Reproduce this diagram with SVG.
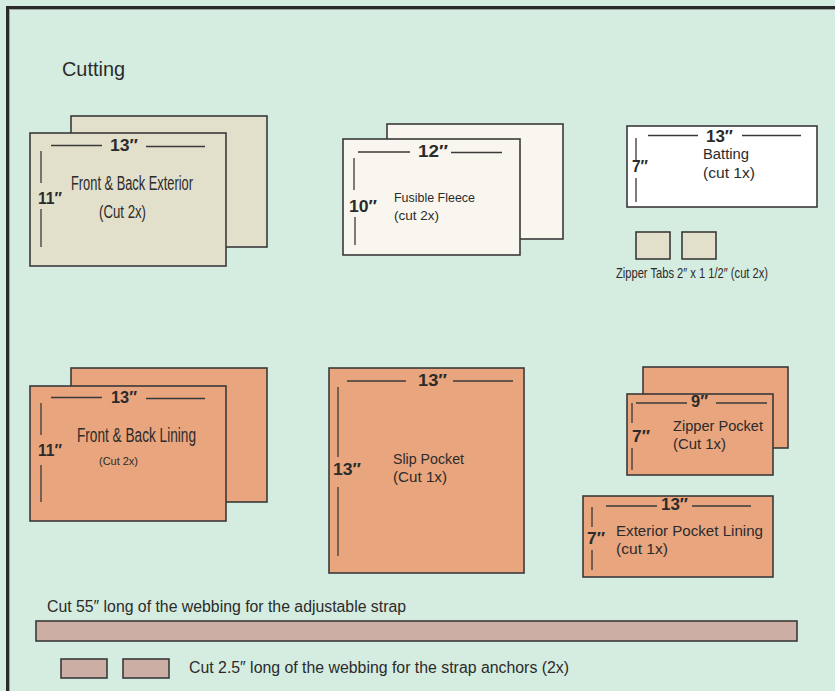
<svg xmlns="http://www.w3.org/2000/svg" width="835" height="691" viewBox="0 0 835 691">
<style>
  .frame{stroke:#2a2a2a;stroke-width:3;fill:none}
  .pc{stroke:#3a3a3a;stroke-width:1.6}
  .beige{fill:#e2dfcb}
  .cream{fill:#f8f6ee}
  .white{fill:#ffffff}
  .salmon{fill:#e9a57e}
  .strap{fill:#cdaea4}
  .dim{stroke:#3a3a3a;stroke-width:1.3;fill:none}
  text{font-family:"Liberation Sans",Arial,sans-serif;fill:#2b2b2b}
  .d{font-weight:bold;font-size:16px}
  .lab{font-size:20px}
  .sm{font-size:14px}
</style>
<rect x="0" y="0" width="835" height="691" fill="#d5ece0"/>
<path class="frame" d="M7.5 691 V7.5 H835"/>
<path d="M9.5 691 V9.5 H835" stroke="#9aa8a0" stroke-width="1" fill="none"/>
<text id="title" x="62" y="76" font-size="20" textLength="63" lengthAdjust="spacingAndGlyphs">Cutting</text>

<g id="front-back-exterior">
  <rect class="pc beige" x="71" y="116" width="196" height="131"/>
  <rect class="pc beige" x="30" y="133" width="196" height="133"/>
  <path class="dim" d="M51 145.5 H102 M146 146.5 H205 M41 151 V183 M41 209 V247"/>
  <text class="d" x="110" y="151" textLength="28" lengthAdjust="spacingAndGlyphs">13″</text>
  <text class="d" x="38" y="204" textLength="24" lengthAdjust="spacingAndGlyphs">11″</text>
  <text class="lab" x="71" y="190" textLength="122" lengthAdjust="spacingAndGlyphs">Front &amp; Back Exterior</text>
  <text x="99" y="218" font-size="18" textLength="47" lengthAdjust="spacingAndGlyphs">(Cut 2x)</text>
</g>

<g id="fusible-fleece">
  <rect class="pc cream" x="387" y="124" width="176" height="115"/>
  <rect class="pc cream" x="343" y="139" width="177" height="116"/>
  <path class="dim" d="M358 152 H410 M451 152.5 H502 M354 158 V190 M355 217 V245"/>
  <text class="d" x="418" y="157" textLength="30" lengthAdjust="spacingAndGlyphs">12″</text>
  <text class="d" x="349" y="212" textLength="28" lengthAdjust="spacingAndGlyphs">10″</text>
  <text x="394" y="202" font-size="13.5" textLength="81" lengthAdjust="spacingAndGlyphs">Fusible Fleece</text>
  <text x="394" y="220" font-size="13.5" textLength="45" lengthAdjust="spacingAndGlyphs">(cut 2x)</text>
</g>

<g id="batting">
  <rect class="pc white" x="627" y="126" width="190" height="81"/>
  <path class="dim" d="M648 135.5 H698 M742 135.5 H801 M636 138 V160 M636 178 V202"/>
  <text class="d" x="706" y="142" textLength="27" lengthAdjust="spacingAndGlyphs">13″</text>
  <text class="d" x="632" y="172" textLength="16" lengthAdjust="spacingAndGlyphs">7″</text>
  <text class="sm" x="703" y="159" textLength="46" lengthAdjust="spacingAndGlyphs">Batting</text>
  <text class="sm" x="703" y="178" textLength="52" lengthAdjust="spacingAndGlyphs">(cut 1x)</text>
</g>

<g id="zipper-tabs">
  <rect class="pc beige" x="636" y="232" width="34" height="27"/>
  <rect class="pc beige" x="682" y="232" width="34" height="27"/>
  <text x="616" y="278" font-size="15" textLength="152" lengthAdjust="spacingAndGlyphs">Zipper Tabs 2″ x 1 1/2″ (cut 2x)</text>
</g>

<g id="front-back-lining">
  <rect class="pc salmon" x="71" y="368" width="196" height="134"/>
  <rect class="pc salmon" x="30" y="386" width="196" height="135"/>
  <path class="dim" d="M51 397.5 H102 M146 398.5 H205 M41 403 V435 M41 465 V502"/>
  <text class="d" x="111" y="403" textLength="26" lengthAdjust="spacingAndGlyphs">13″</text>
  <text class="d" x="38" y="456" textLength="24" lengthAdjust="spacingAndGlyphs">11″</text>
  <text class="lab" x="77" y="442" font-size="21" textLength="119" lengthAdjust="spacingAndGlyphs">Front &amp; Back Lining</text>
  <text x="99" y="465" font-size="11" textLength="39" lengthAdjust="spacingAndGlyphs">(Cut 2x)</text>
</g>

<g id="slip-pocket">
  <rect class="pc salmon" x="329" y="368" width="195" height="205"/>
  <path class="dim" d="M347 381 H406 M453 381 H513 M338 387 V457 M338 487 V556"/>
  <text class="d" x="418" y="386" textLength="29" lengthAdjust="spacingAndGlyphs">13″</text>
  <text class="d" x="333" y="475" textLength="28" lengthAdjust="spacingAndGlyphs">13″</text>
  <text class="sm" x="393" y="464" textLength="71" lengthAdjust="spacingAndGlyphs">Slip Pocket</text>
  <text class="sm" x="393" y="482" textLength="54" lengthAdjust="spacingAndGlyphs">(Cut 1x)</text>
</g>

<g id="zipper-pocket">
  <rect class="pc salmon" x="643" y="367" width="145" height="81"/>
  <rect class="pc salmon" x="627" y="394" width="146" height="81"/>
  <path class="dim" d="M636 403 H687 M716 403 H767 M632 403 V423 M632 448 V470"/>
  <text class="d" x="691" y="407" textLength="17" lengthAdjust="spacingAndGlyphs">9″</text>
  <text class="d" x="632" y="442" textLength="18" lengthAdjust="spacingAndGlyphs">7″</text>
  <text class="sm" x="673" y="431" textLength="90" lengthAdjust="spacingAndGlyphs">Zipper Pocket</text>
  <text class="sm" x="673" y="449" textLength="53" lengthAdjust="spacingAndGlyphs">(Cut 1x)</text>
</g>

<g id="exterior-pocket-lining">
  <rect class="pc salmon" x="583" y="496" width="190" height="81"/>
  <path class="dim" d="M606 506 H657 M692 506 H751 M592 507 V527 M592 550 V570"/>
  <text class="d" x="661" y="510" textLength="27" lengthAdjust="spacingAndGlyphs">13″</text>
  <text class="d" x="587" y="544" textLength="18" lengthAdjust="spacingAndGlyphs">7″</text>
  <text class="sm" x="616" y="536" textLength="147" lengthAdjust="spacingAndGlyphs">Exterior Pocket Lining</text>
  <text class="sm" x="616" y="554" textLength="52" lengthAdjust="spacingAndGlyphs">(cut 1x)</text>
</g>

<g id="adjustable-strap">
  <text x="47" y="612" font-size="16" textLength="359" lengthAdjust="spacingAndGlyphs">Cut 55″ long of the webbing for the adjustable strap</text>
  <rect class="pc strap" x="36" y="621" width="761" height="20"/>
</g>

<g id="strap-anchors">
  <rect class="pc strap" x="61" y="659" width="46" height="19"/>
  <rect class="pc strap" x="123" y="659" width="46" height="19"/>
  <text x="189" y="673" font-size="16" textLength="380" lengthAdjust="spacingAndGlyphs">Cut 2.5″ long of the webbing for the strap anchors (2x)</text>
</g>
</svg>
